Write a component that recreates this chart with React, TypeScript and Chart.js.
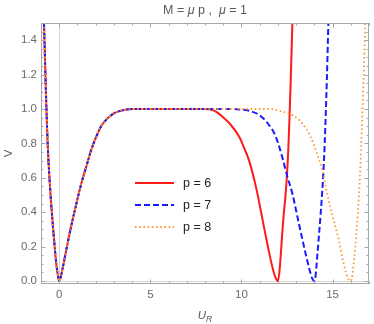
import React, { useEffect, useRef } from "react";
import { Chart, registerables } from "chart.js";

Chart.register(...registerables);

// Shared left well (all three curves coincide here)
const uShared = [-0.86, -0.81, -0.76, -0.71, -0.66, -0.6, -0.53, -0.45, -0.33, -0.2, -0.1, 0, 0.1, 0.2, 0.33, 0.5, 0.7, 0.9, 1.1, 1.3, 1.5, 1.75, 2.0, 2.3, 2.6, 3.0, 3.5, 4.0];
const vShared = [1.6, 1.4, 1.21, 1.03, 0.87, 0.72, 0.59, 0.46, 0.3, 0.14, 0.05, 0, 0.03, 0.08, 0.15, 0.24, 0.34, 0.43, 0.52, 0.6, 0.67, 0.76, 0.83, 0.9, 0.94, 0.975, 0.993, 1.0];

// Right part, p = 6
const uP6 = [5, 6, 7, 8.0, 8.3, 8.6, 8.96, 9.4, 9.87, 10.2, 10.42, 10.79, 11.06, 11.3, 11.51, 11.7, 11.85, 12.0, 12.08, 12.15, 12.24, 12.33, 12.42, 12.5, 12.57, 12.63, 12.69, 12.75, 12.8, 12.83];
const vP6 = [1, 1, 1, 1.0, 0.997, 0.985, 0.955, 0.91, 0.84, 0.76, 0.7, 0.55, 0.41, 0.28, 0.17, 0.08, 0.025, 0, 0.05, 0.14, 0.28, 0.4, 0.5, 0.62, 0.76, 0.93, 1.12, 1.33, 1.52, 1.62];

// Right part, p = 7
const uP7 = [5, 6, 7, 8, 9, 9.5, 9.9, 10.42, 10.97, 11.42, 11.88, 12.24, 12.51, 12.79, 13.15, 13.52, 13.75, 13.88, 14.0, 14.08, 14.15, 14.25, 14.34, 14.42, 14.5, 14.57, 14.63, 14.69, 14.75, 14.79];
const vP7 = [1, 1, 1, 1, 1, 1.0, 0.997, 0.99, 0.965, 0.92, 0.84, 0.72, 0.61, 0.51, 0.335, 0.16, 0.06, 0.015, 0, 0.04, 0.13, 0.26, 0.38, 0.5, 0.64, 0.8, 0.98, 1.18, 1.42, 1.58];

// Right part, p = 8
const uP8 = [5, 6, 7, 8, 9, 10, 11, 11.5, 11.9, 12.24, 12.79, 13.33, 13.79, 14.15, 14.43, 14.7, 14.97, 15.34, 15.61, 15.85, 16.0, 16.08, 16.16, 16.25, 16.34, 16.42, 16.5, 16.57, 16.63, 16.7, 16.77, 16.83];
const vP8 = [1, 1, 1, 1, 1, 1, 1, 1.0, 0.995, 0.985, 0.965, 0.917, 0.84, 0.74, 0.645, 0.51, 0.39, 0.24, 0.1, 0.015, 0, 0.03, 0.1, 0.2, 0.32, 0.45, 0.6, 0.78, 0.96, 1.17, 1.4, 1.6];

const seriesLabels = ["p = 6", "p = 7", "p = 8"];
const seriesColors = ["#ff1a1a", "#1a1aff", "#ff9933"];
const seriesDash: number[][] = [[], [6, 3], [1.6, 2.6]];

const xMajorTicks = [0, 5, 10, 15];
const yMajorTicks = [0, 0.2, 0.4, 0.6, 0.8, 1.0, 1.2, 1.4];
const xMin = -1, xMax = 17, yMin = -0.0176, yMax = 1.5;

function buildPoints(u: number[], v: number[]) {
  const pts = uShared.map((x, i) => ({ x, y: vShared[i] }));
  return pts.concat(u.map((x, i) => ({ x, y: v[i] })));
}

const FONT = "'Liberation Sans', Arial, sans-serif";

const decorPlugin = {
  id: "decor",
  beforeDatasetsDraw(chart: any) {
    const { ctx, chartArea: a, scales } = chart;
    const xs = scales.x, ys = scales.y;
    ctx.save();
    ctx.strokeStyle = "#d4d4d4";
    ctx.lineWidth = 1;
    const x0 = Math.round(xs.getPixelForValue(0)) + 0.5;
    const y0 = Math.round(ys.getPixelForValue(0)) + 0.5;
    ctx.beginPath();
    ctx.moveTo(x0, a.top); ctx.lineTo(x0, a.bottom);
    ctx.moveTo(a.left, y0); ctx.lineTo(a.right, y0);
    ctx.stroke();
    ctx.restore();
  },
  afterDatasetsDraw(chart: any) {
    const { ctx, chartArea: a, scales } = chart;
    const xs = scales.x, ys = scales.y;
    ctx.save();
    ctx.strokeStyle = "#a6a6a6";
    ctx.lineWidth = 1;
    ctx.strokeRect(a.left + 0.5, a.top + 0.5, a.right - a.left - 1, a.bottom - a.top - 1);
    ctx.beginPath();
    for (let i = Math.ceil(xMin); i <= Math.floor(xMax); i++) {
      const major = xMajorTicks.includes(i);
      const len = major ? 4.5 : 2.5;
      const px = Math.round(xs.getPixelForValue(i)) + 0.5;
      ctx.moveTo(px, a.bottom); ctx.lineTo(px, a.bottom - len);
      ctx.moveTo(px, a.top); ctx.lineTo(px, a.top + len);
    }
    for (let k = 0; k <= 30; k++) {
      const v = k * 0.05;
      if (v > yMax + 1e-9) break;
      const major = k % 4 === 0;
      const len = major ? 4.5 : 2.5;
      const py = Math.round(ys.getPixelForValue(v)) + 0.5;
      ctx.moveTo(a.left, py); ctx.lineTo(a.left + len, py);
      ctx.moveTo(a.right, py); ctx.lineTo(a.right - len, py);
    }
    ctx.stroke();

    // legend
    const lx0 = 135, lx1 = 174, ly = [183, 205, 227];
    chart.data.datasets.forEach((ds: any, i: number) => {
      ctx.beginPath();
      ctx.strokeStyle = ds.borderColor;
      ctx.lineWidth = ds.borderWidth;
      ctx.setLineDash(ds.borderDash || []);
      ctx.moveTo(lx0, ly[i]); ctx.lineTo(lx1, ly[i]);
      ctx.stroke();
      ctx.setLineDash([]);
      ctx.fillStyle = "#222";
      ctx.font = `12.5px ${FONT}`;
      ctx.textBaseline = "middle";
      ctx.textAlign = "left";
      ctx.fillText(ds.label, 183, ly[i] + 0.5);
    });

    // title with italic mu
    const parts: [string, boolean][] = [["M = ", false], ["\u03BC", true], [" p ,  ", false], ["\u03BC", true], [" = 1", false]];
    const fs = 12.5;
    let total = 0;
    parts.forEach(([t, it]) => {
      ctx.font = `${it ? "italic " : ""}${fs}px ${FONT}`;
      total += ctx.measureText(t).width;
    });
    let tx = (a.left + a.right) / 2 - total / 2;
    ctx.fillStyle = "#595959";
    ctx.textBaseline = "alphabetic";
    ctx.textAlign = "left";
    parts.forEach(([t, it]) => {
      ctx.font = `${it ? "italic " : ""}${fs}px ${FONT}`;
      ctx.fillText(t, tx, 13.5);
      tx += ctx.measureText(t).width;
    });

    // x axis label U_R
    ctx.fillStyle = "#595959";
    ctx.font = `italic 11.5px ${FONT}`;
    const uw = ctx.measureText("U").width;
    const xc = 205;
    ctx.font = `italic 8.5px ${FONT}`;
    const rw = ctx.measureText("R").width;
    const sx = xc - (uw + rw) / 2;
    ctx.font = `italic 11.5px ${FONT}`;
    ctx.fillText("U", sx, 319);
    ctx.font = `italic 8.5px ${FONT}`;
    ctx.fillText("R", sx + uw, 322);

    // y axis label V
    ctx.save();
    ctx.translate(11.5, (a.top + a.bottom) / 2);
    ctx.rotate(-Math.PI / 2);
    ctx.font = `11.5px ${FONT}`;
    ctx.textAlign = "center";
    ctx.textBaseline = "alphabetic";
    ctx.fillText("V", 0, 0);
    ctx.restore();

    ctx.restore();
  },
};

export default function App() {
  const ref = useRef<HTMLCanvasElement>(null);
  useEffect(() => {
    if (!ref.current) return;
    const u = [uP6, uP7, uP8];
    const v = [vP6, vP7, vP8];
    const chart = new Chart(ref.current, {
      type: "line",
      data: {
        datasets: seriesLabels.map((label, i) => ({
          label,
          data: buildPoints(u[i], v[i]),
          borderColor: seriesColors[i],
          borderWidth: i === 2 ? 1.8 : 2,
          borderDash: seriesDash[i],
          pointRadius: 0,
          fill: false,
          cubicInterpolationMode: "monotone" as const,
          order: 3 - i,
        })),
      },
      options: {
        animation: false,
        responsive: false,
        devicePixelRatio: 1,
        layout: { padding: { top: 23, right: 5, left: 0, bottom: 0 } },
        plugins: { legend: { display: false }, tooltip: { enabled: false }, title: { display: false } },
        scales: {
          x: {
            type: "linear",
            min: xMin,
            max: xMax,
            afterBuildTicks: (s: any) => { s.ticks = xMajorTicks.map((value) => ({ value })); },
            afterFit: (s: any) => { s.height = 40; },
            grid: { display: false, drawTicks: false },
            border: { display: false },
            ticks: { padding: 4, color: "#6b6b6b", font: { family: FONT, size: 11.5 }, maxRotation: 0, autoSkip: false, callback: (val: any) => String(val) },
          },
          y: {
            type: "linear",
            min: yMin,
            max: yMax,
            afterBuildTicks: (s: any) => { s.ticks = yMajorTicks.map((value) => ({ value })); },
            afterFit: (s: any) => { s.width = 41; },
            grid: { display: false, drawTicks: false },
            border: { display: false },
            ticks: { padding: 4, color: "#6b6b6b", font: { family: FONT, size: 11.5 }, autoSkip: false, callback: (val: any) => Number(val).toFixed(1) },
          },
        },
      },
      plugins: [decorPlugin],
    });
    return () => chart.destroy();
  }, []);
  return (
    <div style={{ position: "absolute", left: 0, top: 0, width: 374, height: 324, background: "#fff" }}>
      <canvas ref={ref} width={374} height={324} style={{ width: 374, height: 324, display: "block" }} />
    </div>
  );
}
